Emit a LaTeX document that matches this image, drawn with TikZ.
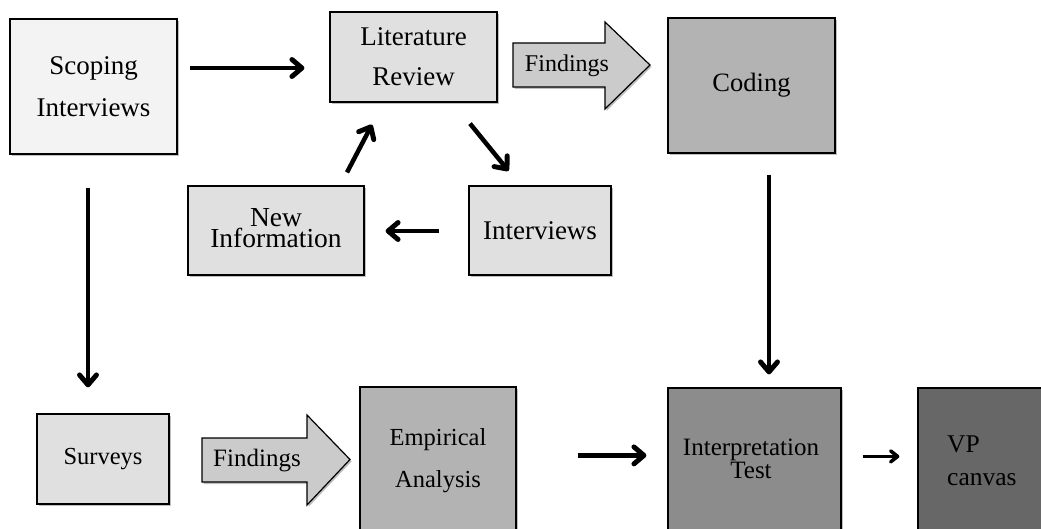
\documentclass[tikz,border=0pt]{standalone}
\usepackage{fontspec}
\setmainfont{Liberation Serif}
\usetikzlibrary{arrows.meta,shadows,calc}
\definecolor{fScop}{HTML}{F3F3F3}
\definecolor{fLit}{HTML}{E0E0E0}
\definecolor{fFind}{HTML}{CBCBCB}
\definecolor{fCod}{HTML}{B3B3B3}
\definecolor{fInt}{HTML}{8C8C8C}
\definecolor{fVP}{HTML}{676767}
\tikzset{
  boxshadow/.style={drop shadow={shadow xshift=1.5pt,shadow yshift=-2pt,fill=black,opacity=0.25}},
  pbox/.style={draw=black,line width=1.2pt,rectangle,inner sep=0pt,align=center,boxshadow},
  conn/.style={line width=4.5pt,-{Straight Barb[length=10pt,width=17pt,line width=0pt 1.1,round]}},
  thinconn/.style={line width=3.2pt,-{Straight Barb[length=7pt,width=11pt,line width=0pt 1.1,round]}},
  blockarrow/.style={draw=black,line width=1.2pt,fill=fFind,line join=miter,boxshadow},
  txt/.style={inner sep=0pt,align=center,text=black}
}
\begin{document}
\begin{tikzpicture}[x=1pt,y=-1pt]
\clip (0,0) rectangle (1041,529);
\fill[white] (0,0) rectangle (1041,529);
% boxes
\node[pbox,fill=fScop,minimum width=167pt,minimum height=135pt,font=\fontsize{27}{42}\selectfont] (scop) at (93.5,86.5) {Scoping\\Interviews};
\node[pbox,fill=fLit,minimum width=167pt,minimum height=90pt,font=\fontsize{27}{40}\selectfont] (lit) at (413.5,57) {Literature\\Review};
\node[pbox,fill=fCod,minimum width=167pt,minimum height=135pt,font=\fontsize{26.5}{30}\selectfont] (cod) at (751.5,85.5) {Coding};
\node[pbox,fill=fLit,minimum width=176pt,minimum height=89pt] (newi) at (276,230.5) {};
\node[txt,font=\fontsize{27.5}{21}\selectfont] (newiT) at (276,228) {New\\Information};
\node[pbox,fill=fLit,minimum width=142pt,minimum height=89pt,font=\fontsize{27}{30}\selectfont] (intv) at (540,230.5) {Interviews};
\node[pbox,fill=fLit,minimum width=132pt,minimum height=90pt,font=\fontsize{24.5}{30}\selectfont] (surv) at (103,459) {Surveys};
\node[pbox,fill=fCod,minimum width=156pt,minimum height=173pt] (emp) at (438,473.5) {};
\node[pbox,fill=fInt,minimum width=173pt,minimum height=172pt] (interp) at (754.5,474) {};
\node[pbox,fill=fVP,minimum width=162pt,minimum height=172pt] (vp) at (999,474) {};
\node[txt,font=\fontsize{24.5}{42}\selectfont] (empT) at (438,461) {Empirical\\Analysis};
\node[txt,font=\fontsize{25}{19}\selectfont] (interpT) at (751,459) {Interpretation\\Test};
\node[txt,align=left,anchor=west,font=\fontsize{25.5}{33}\selectfont] (vpT) at (947,461) {VP\\canvas};
% block arrows
\draw[blockarrow] (513,43) -- (605,43) -- (605,22) -- (650,65) -- (605,109) -- (605,87) -- (513,87) -- cycle;
\node[txt,font=\fontsize{24}{28}\selectfont] (find1) at (567,66) {Findings};
\draw[blockarrow] (202,438) -- (307,438) -- (307,415) -- (350,459.5) -- (307,505) -- (307,482) -- (202,482) -- cycle;
\node[txt,font=\fontsize{25}{28}\selectfont] (find2) at (257,461) {Findings};
% connectors
\draw[conn] ([shift={(12,-18.5)}]scop.east) -- ([shift={(-25,11)}]lit.west);
\draw[conn] ([shift={(-5.5,33)}]scop.south) -- ([shift={(-15,-26)}]surv.north);
\draw[conn] ([shift={(56.5,21)}]lit.south) -- ([shift={(-31.5,-14.5)}]intv.north);
\draw[conn] ([shift={(-29,0.5)}]intv.west) -- ([shift={(21,0.5)}]newi.east);
\draw[conn] ([shift={(71,-13)}]newi.north) -- ([shift={(-41.5,22)}]lit.south);
\draw[conn] ([shift={(17.5,21)}]cod.south) -- ([shift={(14.5,-13)}]interp.north);
\draw[conn] ([shift={(61,69)}]emp.north east) -- ([shift={(-21,68)}]interp.north west);
\draw[thinconn] ([shift={(21,69)}]interp.north east) -- ([shift={(-18,69)}]vp.north west);
\end{tikzpicture}
\end{document}
